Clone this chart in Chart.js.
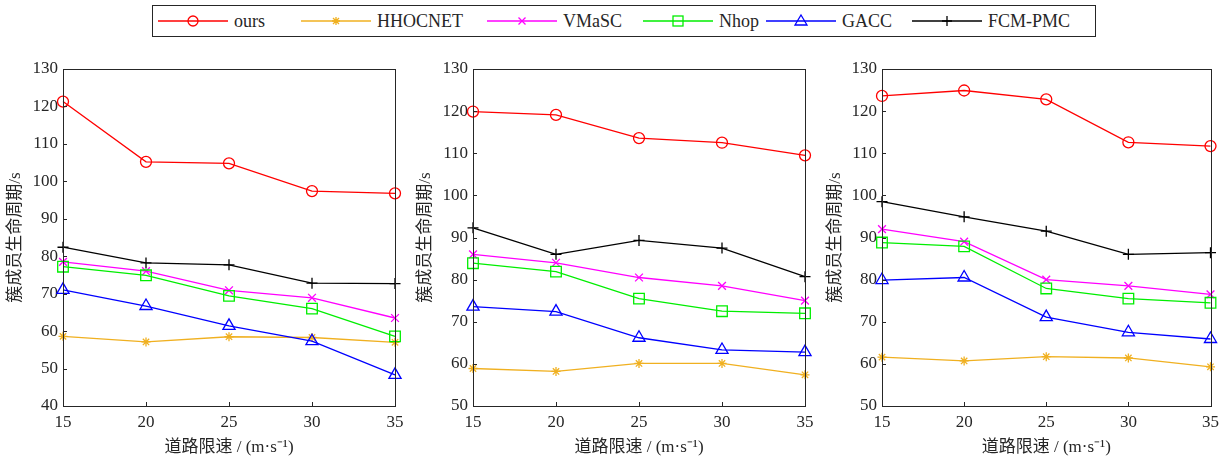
<!DOCTYPE html>
<html>
<head>
<meta charset="utf-8">
<script src="https://cdn.jsdelivr.net/npm/chart.js@4.4.1/dist/chart.umd.min.js"></script>
<style>
  body { margin: 0; background: #fff; width: 1225px; height: 460px; position: relative; overflow: hidden; }
  .legend { position: absolute; left: 152px; top: 5px; width: 944px; height: 32px; border: 1px solid #262626; box-sizing: border-box;
            font-family: "Liberation Serif", serif; font-size: 18px; color: #262626; }
  .item { position: absolute; top: 0; height: 30px; display: flex; align-items: center; }
  .item svg { margin-right: 6px; }
  canvas { position: absolute; top: 45px; }
</style>
</head>
<body>
<div class="legend" id="legend"></div>
<canvas id="c1" width="410" height="415" style="left:0px"></canvas>
<canvas id="c2" width="410" height="415" style="left:410px"></canvas>
<canvas id="c3" width="405" height="415" style="left:820px"></canvas>
<script>
// road speed limit (m/s)
const speeds = [15, 20, 25, 30, 35];
const methods = ['ours', 'HHOCNET', 'VMaSC', 'Nhop', 'GACC', 'FCM-PMC'];

// panel 1
const ours1    = [121.3, 105.2, 104.8, 97.4, 96.8];
const hhocnet1 = [58.6, 57.1, 58.5, 58.3, 57.0];
const vmasc1   = [78.5, 76.0, 70.9, 68.9, 63.5];
const nhop1    = [77.2, 74.9, 69.4, 66.0, 58.6];
const gacc1    = [71.0, 66.7, 61.4, 57.3, 48.3];
const fcm1     = [82.4, 78.2, 77.7, 72.8, 72.7];

// panel 2
const ours2    = [119.9, 119.1, 113.6, 112.5, 109.5];
const hhocnet2 = [58.9, 58.2, 60.1, 60.1, 57.4];
const vmasc2   = [86.0, 84.0, 80.5, 78.5, 75.0];
const nhop2    = [83.9, 81.9, 75.5, 72.5, 72.0];
const gacc2    = [73.6, 72.4, 66.2, 63.3, 62.8];
const fcm2     = [92.3, 86.0, 89.3, 87.5, 80.7];

// panel 3
const ours3    = [123.6, 124.9, 122.8, 112.6, 111.7];
const hhocnet3 = [61.6, 60.7, 61.7, 61.4, 59.3];
const vmasc3   = [92.0, 89.0, 80.0, 78.5, 76.5];
const nhop3    = [88.8, 87.9, 77.9, 75.5, 74.5];
const gacc3    = [79.9, 80.5, 71.1, 67.5, 65.9];
const fcm3     = [98.5, 94.9, 91.5, 86.0, 86.4];

const yRange1 = [40, 130];
const yRange2 = [50, 130];
const yRange3 = [50, 130];

const xTitle = '道路限速 / (m·s⁻¹)';
const yTitle = '簇成员生命周期/s';

const styles = [
  { color: '#ff0000', point: 'circle',   radius: 5.5 },
  { color: '#f0b020', point: 'star',     radius: 4.5 },
  { color: '#ff00ff', point: 'crossRot', radius: 5.5 },
  { color: '#00ee00', point: 'rect',     radius: 7.5 },
  { color: '#0000ff', point: 'triangle', radius: 7 },
  { color: '#000000', point: 'cross',    radius: 5.5 },
];

const FONT = '"Liberation Serif", "Noto Sans CJK SC", serif';
const AXIS = '#262626';

// box around the plot + inward tick marks
const boxTicks = {
  id: 'boxTicks',
  afterDraw(chart) {
    const { ctx, chartArea: a, scales } = chart;
    ctx.save();
    ctx.strokeStyle = AXIS;
    ctx.lineWidth = 1;
    ctx.strokeRect(Math.round(a.left) + 0.5, Math.round(a.top) + 0.5,
                   Math.round(a.right - a.left), Math.round(a.bottom - a.top));
    ctx.beginPath();
    scales.x.ticks.forEach(t => {
      const px = Math.round(scales.x.getPixelForValue(t.value)) + 0.5;
      ctx.moveTo(px, a.bottom);
      ctx.lineTo(px, a.bottom - 4);
    });
    scales.y.ticks.forEach(t => {
      const py = Math.round(scales.y.getPixelForValue(t.value)) + 0.5;
      ctx.moveTo(a.left, py);
      ctx.lineTo(a.left + 4, py);
    });
    ctx.stroke();
    ctx.restore();
  }
};

function makePanel(id, series, yRange, yAxisWidth, rightPad) {
  new Chart(document.getElementById(id), {
    type: 'line',
    data: {
      datasets: series.map((vals, i) => ({
        label: methods[i],
        data: speeds.map((s, j) => ({ x: s, y: vals[j] })),
        borderColor: styles[i].color,
        backgroundColor: 'rgba(0,0,0,0)',
        borderWidth: 1.3,
        pointStyle: styles[i].point,
        pointRadius: styles[i].radius,
        pointBorderColor: styles[i].color,
        pointBackgroundColor: 'rgba(0,0,0,0)',
        pointBorderWidth: 1.3,
        tension: 0,
        clip: false,
        order: series.length - i,
      }))
    },
    options: {
      responsive: false,
      animation: false,
      layout: { padding: { top: 24, right: rightPad, bottom: 0, left: 0 } },
      plugins: { legend: { display: false }, tooltip: { enabled: false } },
      scales: {
        x: {
          type: 'linear',
          min: speeds[0],
          max: speeds[speeds.length - 1],
          grid: { display: false, drawTicks: false },
          border: { display: false },
          ticks: { stepSize: 5, padding: 6, color: AXIS, font: { family: FONT, size: 17 } },
          title: { display: true, text: xTitle, color: AXIS, padding: { top: 0, bottom: 2 },
                   font: { family: FONT, size: 17 } },
          afterFit: s => { s.height = 54; },
        },
        y: {
          min: yRange[0],
          max: yRange[1],
          grid: { display: false, drawTicks: false },
          border: { display: false },
          ticks: { stepSize: 10, padding: 5, color: AXIS, font: { family: FONT, size: 17 } },
          title: { display: true, text: yTitle, color: AXIS, padding: { top: 5, bottom: 0 },
                   font: { family: FONT, size: 17 } },
          afterFit: s => { s.width = yAxisWidth; },
        }
      }
    },
    plugins: [boxTicks]
  });
}

// legend: line segment with marker, then label
const legendLeft = [5, 148, 334, 490, 613, 759];
function markerSvg(st) {
  const c = st.color, cx = 35, cy = 15;
  let m = '';
  if (st.point === 'circle') m = `<circle cx="${cx}" cy="${cy}" r="5" fill="none" stroke="${c}" stroke-width="1.3"/>`;
  if (st.point === 'star') m = `<path d="M${cx-4} ${cy}H${cx+4}M${cx} ${cy-4}V${cy+4}M${cx-3} ${cy-3}L${cx+3} ${cy+3}M${cx-3} ${cy+3}L${cx+3} ${cy-3}" stroke="${c}" stroke-width="1.3"/>`;
  if (st.point === 'crossRot') m = `<path d="M${cx-3.5} ${cy-3.5}L${cx+3.5} ${cy+3.5}M${cx-3.5} ${cy+3.5}L${cx+3.5} ${cy-3.5}" stroke="${c}" stroke-width="1.3"/>`;
  if (st.point === 'rect') m = `<rect x="${cx-5}" y="${cy-5}" width="10" height="10" fill="none" stroke="${c}" stroke-width="1.3"/>`;
  if (st.point === 'triangle') m = `<path d="M${cx} ${cy-6}L${cx+6} ${cy+4}L${cx-6} ${cy+4}Z" fill="none" stroke="${c}" stroke-width="1.3"/>`;
  if (st.point === 'cross') m = `<path d="M${cx-5} ${cy}H${cx+5}M${cx} ${cy-5}V${cy+5}" stroke="${c}" stroke-width="1.3"/>`;
  return `<svg width="70" height="30"><line x1="0" y1="${cy}" x2="70" y2="${cy}" stroke="${c}" stroke-width="1.3"/>${m}</svg>`;
}
const legendEl = document.getElementById('legend');
methods.forEach((name, i) => {
  const d = document.createElement('div');
  d.className = 'item';
  d.style.left = legendLeft[i] + 'px';
  d.innerHTML = markerSvg(styles[i]) + '<span>' + name + '</span>';
  legendEl.appendChild(d);
});

// make sure the serif face is ready before the canvases draw text
Promise.all([
  document.fonts.load('17px "Liberation Serif"'),
  document.fonts.load('17px "Noto Sans CJK SC"', '簇成员')
]).catch(() => {}).then(() => {
  makePanel('c1', [ours1, hhocnet1, vmasc1, nhop1, gacc1, fcm1], yRange1, 63, 15);
  makePanel('c2', [ours2, hhocnet2, vmasc2, nhop2, gacc2, fcm2], yRange2, 63, 15);
  makePanel('c3', [ours3, hhocnet3, vmasc3, nhop3, gacc3, fcm3], yRange3, 62, 12);
});
</script>
</body>
</html>
